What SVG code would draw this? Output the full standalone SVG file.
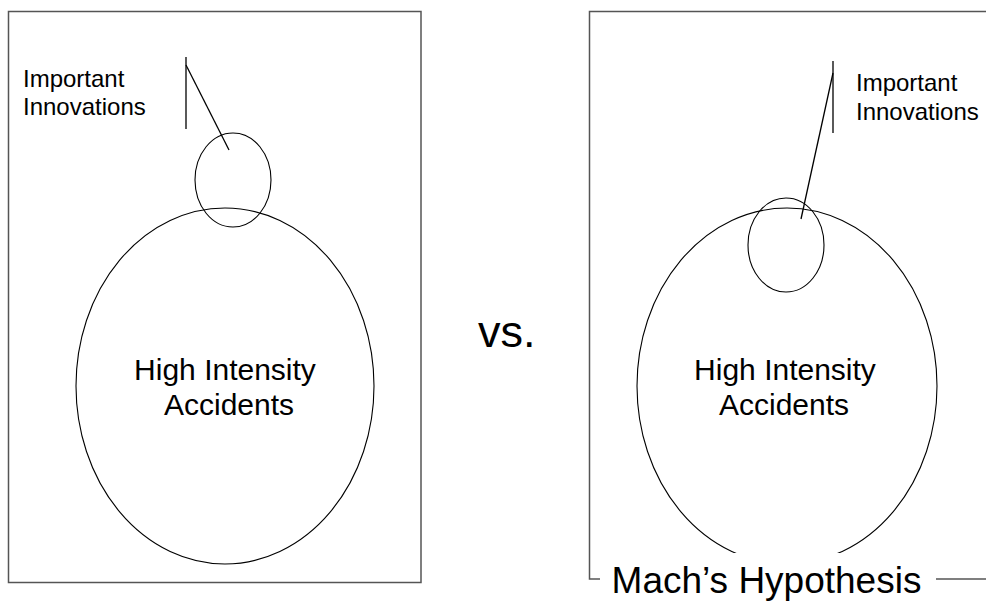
<svg xmlns="http://www.w3.org/2000/svg" width="986" height="603" viewBox="0 0 986 603">
<style>
.frame{fill:none;stroke:#555;stroke-width:1.5}
.shape{fill:none;stroke:#000;stroke-width:1.1}
.lead{fill:none;stroke:#000;stroke-width:1.3}
.t{font-family:"Liberation Sans",Arial,sans-serif;fill:#000}
.s{font-size:24px}
.m{font-size:30px;text-anchor:middle}
</style>
<rect width="986" height="603" fill="#fff"/>
<g id="left-panel">
  <rect class="frame" x="8.5" y="11.5" width="412.5" height="571"/>
</g>
<g id="left-accidents">
  <ellipse class="shape" cx="225" cy="386" rx="149" ry="178"/>
  <text class="t m" x="225" y="380">High Intensity</text>
  <text class="t m" x="229" y="415">Accidents</text>
</g>
<g id="left-innovations">
  <ellipse class="shape" cx="233" cy="180" rx="38" ry="47"/>
</g>
<g id="left-label">
  <text class="t s" x="23" y="87">Important</text>
  <text class="t s" x="23" y="115">Innovations</text>
</g>
<g id="vs">
  <text class="t" x="478" y="347" font-size="45">vs.</text>
</g>
<g id="right-panel">
  <path class="frame" d="M1000 11.5H589.5V579H600M936 579H1000"/>
</g>
<g id="right-accidents">
  <ellipse class="shape" cx="787" cy="386" rx="150" ry="178"/>
  <rect x="600" y="553" width="336" height="50" fill="#fff"/>
  <text class="t m" x="785" y="380">High Intensity</text>
  <text class="t m" x="784" y="415">Accidents</text>
</g>
<g id="right-innovations">
  <ellipse class="shape" cx="786" cy="245" rx="38" ry="47"/>
</g>
<g id="right-label">
  <text class="t s" x="856" y="91">Important</text>
  <text class="t s" x="856" y="120">Innovations</text>
</g>
<g id="legend">
  <text class="t" x="766.5" y="593" font-size="37" text-anchor="middle">Mach’s Hypothesis</text>
</g>
<g id="connectors">
  <line class="lead" x1="186" y1="57" x2="186" y2="129"/>
  <line class="lead" x1="186" y1="65" x2="229" y2="150"/>
  <line class="lead" x1="833" y1="61" x2="833" y2="133"/>
  <line class="lead" x1="833" y1="73" x2="801" y2="219"/>
</g>
</svg>
